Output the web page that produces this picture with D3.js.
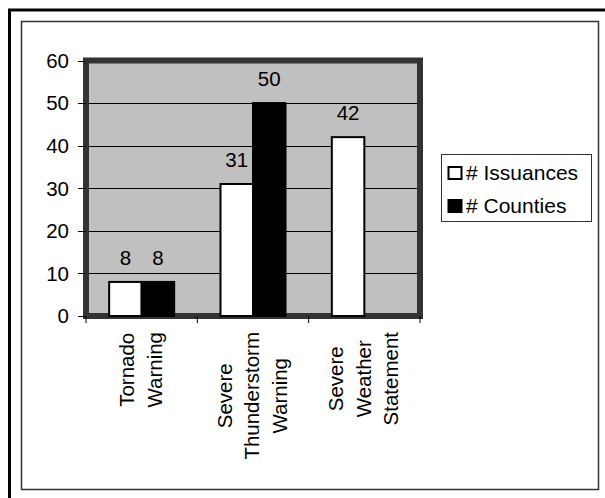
<!DOCTYPE html>
<meta charset="utf-8">
<script src="https://cdn.jsdelivr.net/npm/d3@7"></script>
<style>
body { margin: 0; background: #fff; }
text { font-family: Arial, "Liberation Sans", sans-serif; fill: #000; }
</style>
<div id="chart"></div>
<script>
// data
const categories = ["Tornado Warning", "Severe Thunderstorm Warning", "Severe Weather Statement"];
const catLines = [["Tornado", "Warning"], ["Severe", "Thunderstorm", "Warning"], ["Severe", "Weather", "Statement"]];
const seriesNames = ["# Issuances", "# Counties"];
const issuances = [8, 31, 42];
const counties = [8, 50, null];
const yTicks = [0, 10, 20, 30, 40, 50, 60];

const width = 605, height = 498;
const plot = {left: 86, right: 420, top: 60.5, bottom: 316};
const seriesFill = ["#fff", "#000"];
const fs = "20.5px";

const svg = d3.select("#chart").append("svg")
  .attr("width", width)
  .attr("height", height);

// outer frame (runs off the right/bottom edge) and inner frame
svg.append("path")
  .attr("d", "M9.5,500 V10 H610")
  .attr("fill", "none").attr("stroke", "#000").attr("stroke-width", 3);
svg.append("rect")
  .attr("x", 21.5).attr("y", 21.5).attr("width", 577).attr("height", 468)
  .attr("fill", "none").attr("stroke", "#333").attr("stroke-width", 1.5);

const y = d3.scaleLinear().domain([0, 60]).range([plot.bottom, plot.top]);
const x0 = d3.scaleBand().domain(categories).range([plot.left, plot.right])
  .paddingInner(0.416).paddingOuter(0.208);
const x1 = d3.scaleBand().domain(seriesNames).range([0, x0.bandwidth()]);

// plot area
svg.append("rect")
  .attr("x", plot.left).attr("y", plot.top)
  .attr("width", plot.right - plot.left).attr("height", plot.bottom - plot.top)
  .attr("fill", "#c0c0c0").attr("stroke", "#333").attr("stroke-width", 6);

// gridlines
svg.append("g").selectAll("line")
  .data(yTicks.filter(d => d > 0 && d < 60))
  .join("line")
  .attr("x1", plot.left + 3).attr("x2", plot.right - 3)
  .attr("y1", d => Math.round(y(d)) + 0.5).attr("y2", d => Math.round(y(d)) + 0.5)
  .attr("stroke", "#000").attr("stroke-width", 1);

// y axis
const yAxis = svg.append("g");
yAxis.selectAll("line").data(yTicks).join("line")
  .attr("x1", plot.left - 8).attr("x2", plot.left)
  .attr("y1", d => Math.round(y(d)) + 0.5).attr("y2", d => Math.round(y(d)) + 0.5)
  .attr("stroke", "#000");
yAxis.selectAll("text").data(yTicks).join("text")
  .attr("x", 69).attr("y", d => y(d)).attr("dy", "0.36em")
  .attr("text-anchor", "end").style("font-size", fs)
  .text(d => d);

// x axis ticks at category boundaries
const bounds = categories.map(c => x0(c) - x0.step() * x0.paddingOuter());
bounds.push(plot.right);
svg.append("g").selectAll("line").data(bounds).join("line")
  .attr("x1", d => d).attr("x2", d => d)
  .attr("y1", plot.bottom).attr("y2", plot.bottom + 7)
  .attr("stroke", "#000");

// bars
const rows = categories.map((c, i) => ({cat: c, vals: [issuances[i], counties[i]]}));
const group = svg.append("g").selectAll("g").data(rows).join("g")
  .attr("transform", d => `translate(${x0(d.cat)},0)`);

group.selectAll("rect")
  .data(d => d.vals.map((v, j) => ({s: seriesNames[j], j: j, v: v})).filter(e => e.v != null))
  .join("rect")
  .attr("x", e => x1(e.s)).attr("width", x1.bandwidth())
  .attr("y", e => y(e.v)).attr("height", e => y(0) - y(e.v))
  .attr("fill", e => seriesFill[e.j])
  .attr("stroke", "#000").attr("stroke-width", 2);

group.selectAll("text")
  .data(d => d.vals.map((v, j) => ({s: seriesNames[j], v: v})).filter(e => e.v != null))
  .join("text")
  .attr("x", e => x1(e.s) + x1.bandwidth() / 2)
  .attr("y", e => y(e.v) - 17)
  .attr("text-anchor", "middle").style("font-size", fs)
  .text(e => e.v);

// category labels, rotated, lines centred on the longest one
const lineGap = 27.5, labelTop = 332;
categories.forEach((c, i) => {
  const lines = catLines[i];
  const cx = x0(c) + x0.bandwidth() / 2 - 1;
  const g = svg.append("g");
  const texts = lines.map((t, k) => g.append("text")
    .style("font-size", fs).attr("text-anchor", "middle").attr("dy", "0.35em")
    .text(t));
  const maxLen = d3.max(texts, t => t.node().getComputedTextLength());
  const cy = labelTop + maxLen / 2;
  texts.forEach((t, k) => {
    const lx = cx + (k - (lines.length - 1) / 2) * lineGap;
    t.attr("transform", `translate(${lx},${cy}) rotate(-90)`);
  });
});

// legend
const legend = svg.append("g");
legend.append("rect")
  .attr("x", 441.5).attr("y", 154.5).attr("width", 150).attr("height", 67)
  .attr("fill", "#fff").attr("stroke", "#333").attr("stroke-width", 1);
const li = legend.selectAll("g").data(seriesNames).join("g")
  .attr("transform", (d, i) => `translate(0,${i * 33})`);
li.append("rect")
  .attr("x", 448.5).attr("y", 167).attr("width", 13).attr("height", 12)
  .attr("fill", (d, i) => seriesFill[i]).attr("stroke", "#000").attr("stroke-width", 2);
li.append("text")
  .attr("x", 466).attr("y", 180).style("font-size", "21px")
  .text(d => d);
</script>
